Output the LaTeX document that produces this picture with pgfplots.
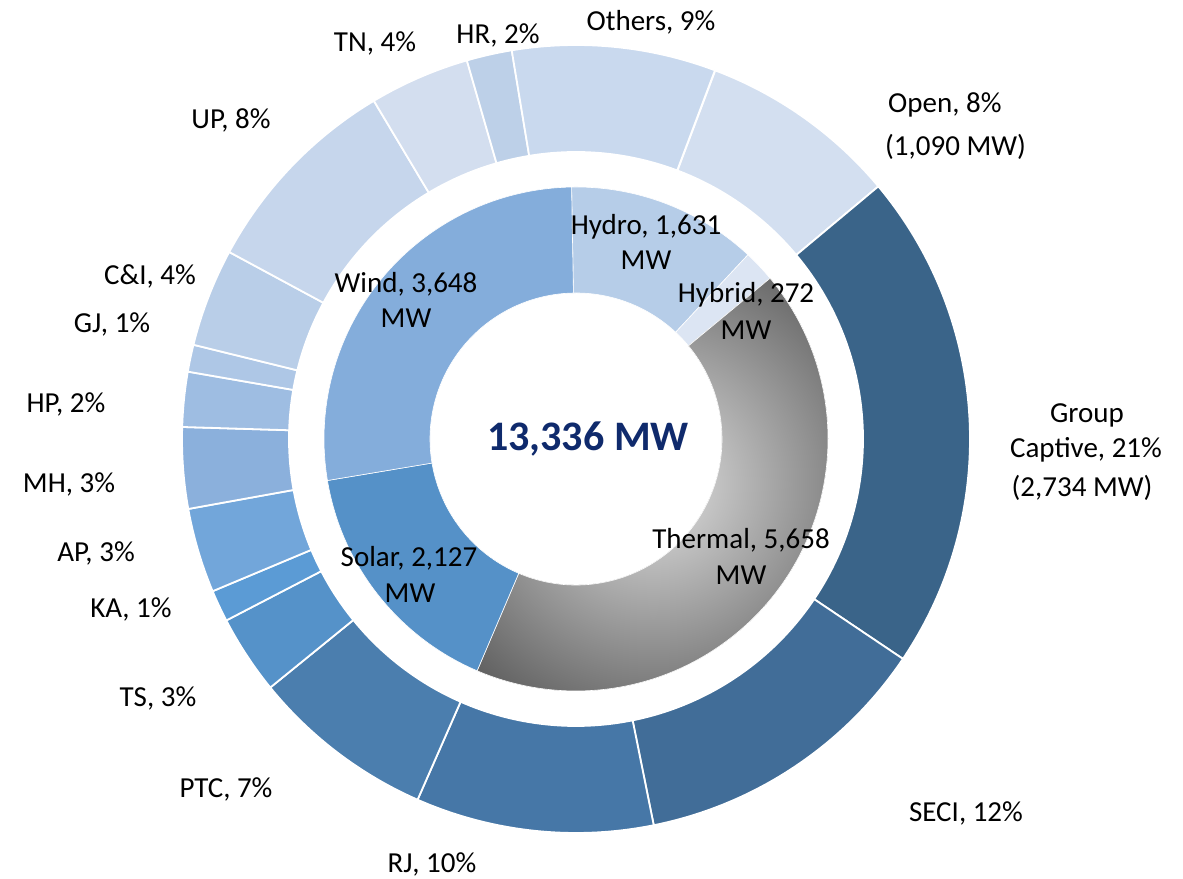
\documentclass[border=0pt]{standalone}
\usepackage{pgfplots}
\pgfplotsset{compat=1.18}
\usepackage{pgfplotstable}
\usepackage{fontspec}
\setmainfont{Carlito}

% outer ring colours
\definecolor{cOpen}{HTML}{D3DFF0}
\definecolor{cGC}{HTML}{3A6489}
\definecolor{cSECI}{HTML}{416D98}
\definecolor{cRJ}{HTML}{4677A7}
\definecolor{cPTC}{HTML}{4B7EAE}
\definecolor{cTS}{HTML}{5592C9}
\definecolor{cKA}{HTML}{5B9BD5}
\definecolor{cAP}{HTML}{72A6DA}
\definecolor{cMH}{HTML}{8BB0DC}
\definecolor{cHP}{HTML}{9EBDE2}
\definecolor{cGJ}{HTML}{AEC7E6}
\definecolor{cCI}{HTML}{B9CEE8}
\definecolor{cUP}{HTML}{C6D6EC}
\definecolor{cTN}{HTML}{D3DEEF}
\definecolor{cHR}{HTML}{BDD0E8}
\definecolor{cOth}{HTML}{C9D9EE}
% inner ring colours
\definecolor{cHydro}{HTML}{B6CDE8}
\definecolor{cHybrid}{HTML}{DCE5F3}
\definecolor{cWind}{HTML}{84ADDB}
\definecolor{cSolar}{HTML}{5591C8}
\definecolor{thermIn}{HTML}{E2E2E2}
\definecolor{thermOut}{HTML}{5A5A5A}
\definecolor{navy}{HTML}{0F2A6C}

\tikzset{
  thermal/.style={fill=gray, path picture={
      \shade[inner color=thermIn, outer color=thermOut] (axis cs:77,-45) circle[radius=270bp];}},
  lbl/.style={inner sep=0pt, text height=18.7bp, text depth=0pt,
      font=\fontsize{29bp}{35bp}\selectfont},
}

% outer ring, clockwise from Open (MW)
\pgfplotstableread[col sep=comma]{
name,mw,style
Open,1090,cOpen
GroupCaptive,2734,cGC
SECI,1656,cSECI
RJ,1300,cRJ
PTC,1007,cPTC
TS,433,cTS
KA,174,cKA
AP,463,cAP
MH,444,cMH
HP,300,cHP
GJ,148,cGJ
CI,537,cCI
UP,1141,cUP
TN,548,cTN
HR,248,cHR
Others,1113,cOth
}\outerring

% inner ring, clockwise from Hydro (MW)
\pgfplotstableread[col sep=comma]{
name,mw,style
Hydro,1631,cHydro
Hybrid,272,cHybrid
Thermal,5658,thermal
Solar,2127,cSolar
Wind,3648,cWind
}\innerring

% #1 table, #2 inner radius, #3 outer radius, #4 start angle, #5 border width
\newcommand\ring[5]{%
  \pgfplotstablegetrowsof{#1}%
  \pgfmathtruncatemacro\nlast{\pgfplotsretval-1}%
  \gdef\ringtot{0}%
  \foreach \i in {0,...,\nlast}{%
    \pgfplotstablegetelem{\i}{mw}\of{#1}%
    \pgfmathsetmacro\tmp{\ringtot+\pgfplotsretval}%
    \xdef\ringtot{\tmp}}%
  \xdef\ringang{#4}%
  \foreach \i in {0,...,\nlast}{%
    \pgfplotstablegetelem{\i}{mw}\of{#1}%
    \pgfmathsetmacro\angb{\ringang-\pgfplotsretval/\ringtot*360}%
    \pgfplotstablegetelem{\i}{style}\of{#1}%
    \edef\sty{\pgfplotsretval}%
    \fill[\sty, draw=white, line width=#5]
      ([shift={(\ringang:#3bp)}]axis cs:0,0)
      arc[start angle=\ringang, end angle=\angb, radius=#3bp]
      -- ([shift={(\angb:#2bp)}]axis cs:0,0)
      arc[start angle=\angb, end angle=\ringang, radius=#2bp] -- cycle;
    \xdef\ringang{\angb}}%
}

\begin{document}
\begin{tikzpicture}
\begin{axis}[hide axis, x=1bp, y=1bp, clip=false,
    xmin=-576, xmax=607, ymin=-440, ymax=439]
  \addplot[draw=none] coordinates {(-576,-440) (607,439)};
  \pgfplotsextra{%
    \ring{\outerring}{287}{394}{69.3}{1.8bp}%
    \ring{\innerring}{146}{252}{91}{0.6bp}%
  }
  % outer ring labels
  \node[lbl] at (axis cs:75,418) {Others, 9\%};
  \node[lbl] at (axis cs:-78,405) {HR, 2\%};
  \node[lbl] at (axis cs:-201,397) {TN, 4\%};
  \node[lbl] at (axis cs:-345,320) {UP, 8\%};
  \node[lbl] at (axis cs:-426,164) {C\&I, 4\%};
  \node[lbl] at (axis cs:-464,116) {GJ, 1\%};
  \node[lbl] at (axis cs:-510,36) {HP, 2\%};
  \node[lbl] at (axis cs:-507,-44) {MH, 3\%};
  \node[lbl] at (axis cs:-480,-113) {AP, 3\%};
  \node[lbl] at (axis cs:-445,-169) {KA, 1\%};
  \node[lbl] at (axis cs:-418,-258) {TS, 3\%};
  \node[lbl] at (axis cs:-350,-349) {PTC, 7\%};
  \node[lbl] at (axis cs:-144,-424) {RJ, 10\%};
  \node[lbl] at (axis cs:390,-373) {SECI, 12\%};
  \node[lbl] at (axis cs:511,26) {Group};
  \node[lbl] at (axis cs:510,-9) {Captive, 21\%};
  \node[lbl] at (axis cs:506,-48) {(2,734 MW)};
  \node[lbl, anchor=west] at (axis cs:312,336) {Open, 8\%};
  \node[lbl, anchor=west] at (axis cs:309,293) {(1,090 MW)};
  % inner ring labels
  \node[lbl] at (axis cs:70,214) {Hydro, 1,631};
  \node[lbl] at (axis cs:70,179) {MW};
  \node[lbl] at (axis cs:170,146) {Hybrid, 272};
  \node[lbl] at (axis cs:170,109) {MW};
  \node[lbl] at (axis cs:-170,156) {Wind, 3,648};
  \node[lbl] at (axis cs:-170,121) {MW};
  \node[lbl] at (axis cs:165,-100) {Thermal, 5,658};
  \node[lbl] at (axis cs:165,-136) {MW};
  \node[lbl] at (axis cs:-167,-118) {Solar, 2,127};
  \node[lbl] at (axis cs:-166,-154) {MW};
  % total
  \node[inner sep=0pt, text height=27bp, text depth=0pt, text=navy,
        font=\fontsize{42bp}{50bp}\selectfont\bfseries] at (axis cs:12,2) {13,336 MW};
\end{axis}
\end{tikzpicture}
\end{document}
